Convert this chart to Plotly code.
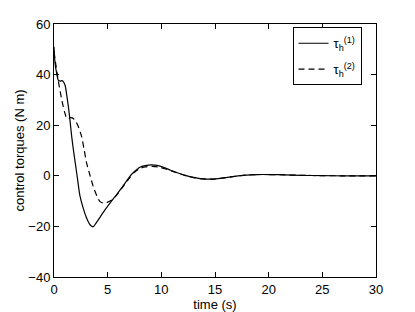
import plotly.graph_objects as go

t_solid = [0, 0.1, 0.25, 0.4, 0.6, 0.75, 0.9, 1.05, 1.2, 1.35, 1.5, 1.65, 1.8, 2.0, 2.2, 2.4,
           2.7, 3.0, 3.3, 3.5, 3.68, 3.9, 4.3, 4.8, 5.3, 5.8, 6.3, 6.8, 7.1, 7.5, 8.0, 8.5,
           9.1, 9.6, 10.2, 10.8, 11.5, 12.4, 13.0, 13.6, 14.2, 14.8, 15.5, 16.5, 17.9, 19.0,
           20.1, 21.5, 23, 25, 27, 30]
tau1 = [51, 44.4, 40.5, 37.8, 37.4, 37.6, 37.0, 35.5, 31.5, 27.0, 21.5, 15.5, 10.5, 4.5, -1.5, -7.5,
        -12.5, -16.3, -19.0, -19.9, -20.1, -18.8, -16.3, -13.2, -10.3, -7.6, -4.8, -1.8, 0.0, 1.7, 3.4, 4.0,
        4.3, 4.1, 3.4, 2.3, 1.2, 0.0, -0.6, -1.1, -1.3, -1.3, -1.0, -0.4, 0.3, 0.5,
        0.5, 0.35, 0.2, 0.05, 0, 0]

t_dash = [0, 0.1, 0.25, 0.4, 0.56, 0.7, 0.87, 1.0, 1.18, 1.35, 1.5, 1.7, 1.96, 2.27, 2.58, 2.8,
          3.04, 3.3, 3.66, 4.0, 4.29, 4.6, 4.9, 5.3, 5.7, 6.0, 6.5, 7.1, 7.5, 8.0, 8.5, 9.2,
          9.8, 10.4, 11.0, 11.7, 12.4, 13.0, 13.6, 14.2, 14.8, 15.5, 16.5, 17.9, 19.0, 20.1,
          21.5, 23, 25, 27, 30]
tau2 = [49, 46, 41.7, 37.5, 33.8, 30.5, 27.2, 25.0, 22.8, 22.6, 23.0, 22.9, 22.0, 19.4, 15.4, 10.5,
        5.0, 1.0, -4.3, -8.0, -10.2, -10.8, -10.6, -9.8, -8.3, -6.8, -3.9, -0.5, 1.4, 2.9, 3.5, 3.7,
        3.4, 2.7, 1.8, 0.8, -0.1, -0.7, -1.1, -1.3, -1.3, -1.0, -0.4, 0.3, 0.5, 0.5,
        0.35, 0.2, 0.05, 0, 0]

x_ticks = [0, 5, 10, 15, 20, 25, 30]
y_ticks = [-40, -20, 0, 20, 40, 60]

FAM = "Liberation Sans, Arial, Helvetica, sans-serif"
font = dict(family=FAM, size=13, color="black")

fig = go.Figure()
fig.add_trace(go.Scatter(x=t_solid, y=tau1, mode="lines", legendgroup="a",
                         line=dict(color="black", width=1.2, shape="spline", smoothing=0.6),
                         name="τ<sub>h</sub><sup>(1)</sup>"))
fig.add_trace(go.Scatter(x=t_dash, y=tau2, mode="lines", legendgroup="b",
                         line=dict(color="black", width=1.2, dash="6px,4px", shape="spline", smoothing=0.6),
                         name="τ<sub>h</sub><sup>(2)</sup>"))

axis_common = dict(showgrid=False, zeroline=False, showline=True, linecolor="black", linewidth=1,
                   mirror="ticks", ticks="inside", ticklen=5, tickcolor="black",
                   tickfont=font, automargin=False)
fig.update_xaxes(range=[0, 30], tickvals=x_ticks, ticktext=[str(v) for v in x_ticks],
                 title=dict(text="time (s)", font=font, standoff=0), **axis_common)
fig.update_yaxes(range=[-40, 60], tickvals=y_ticks,
                 ticktext=[str(v).replace("-", "\u2212") for v in y_ticks],
                 title=dict(text="control torques (N m)", font=font, standoff=0), **axis_common)

fig.update_layout(
    width=415, height=312,
    margin=dict(l=54, r=39, t=24, b=35),
    paper_bgcolor="white", plot_bgcolor="white",
    font=font,
    showlegend=True,
    legend=dict(x=0.955, y=0.987, xanchor="right", yanchor="top",
                bordercolor="black", borderwidth=1, bgcolor="white",
                font=dict(family=FAM, size=13),
                itemwidth=30, tracegroupgap=6),
)

fig.write_html("out.html", config={"displayModeBar": False},
               post_script="document.body.style.margin='0px';")
